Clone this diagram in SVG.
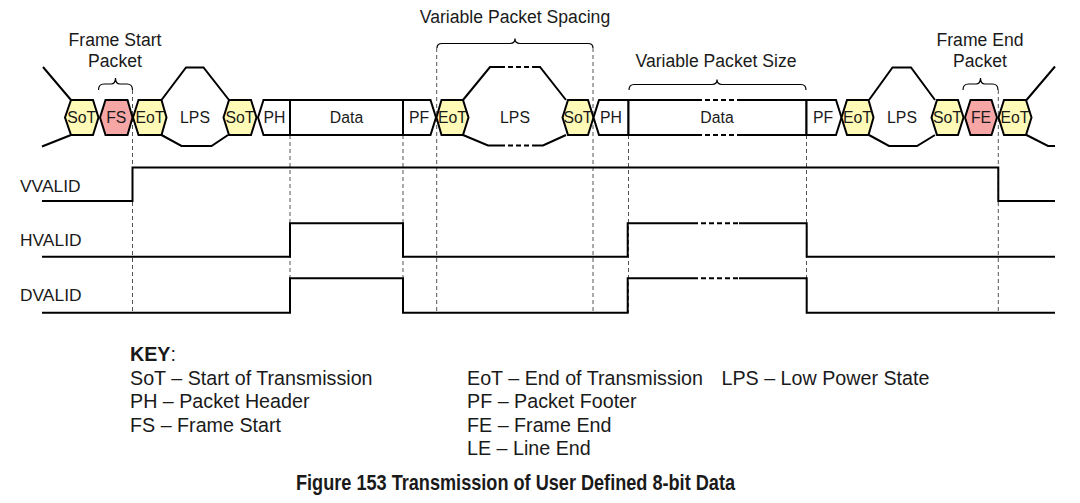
<svg xmlns="http://www.w3.org/2000/svg" width="1080" height="503" viewBox="0 0 1080 503">
<style>
text{font-family:"Liberation Sans",Arial,sans-serif;fill:#1a1a1a}
.pk{stroke:#000;stroke-width:2;stroke-linejoin:miter}
.y{fill:#FFFAB6}
.p{fill:#F7A6A6}
.w{fill:#fff}
.t{font-size:15.8px;text-anchor:middle}
.ln{fill:none;stroke:#000;stroke-width:2}
.dl{fill:none;stroke:#000;stroke-width:2;stroke-dasharray:5 3}
.br{fill:none;stroke:#000;stroke-width:1.2}
.gd{fill:none;stroke:#555;stroke-width:1;stroke-dasharray:4 3}
.lb{font-size:17.6px;text-anchor:middle}
.sg{font-size:17.4px}
.k{font-size:19.7px}
</style>

<g id="guides">
<path class="gd" d="M132.5,90V313M290,135V313M403,135V313M436.7,48V313M593,48V313M628.5,135V313M806.5,135V313M998.3,90V313"/>
</g>

<g id="lps-outlines">
<path class="ln" d="M43,67L71,100M42,146.5L71,135"/>
<path class="ln" d="M161.5,100L186,67.5H203.5L229,100M161.5,135L181.5,146H211.5L228,135"/>
<path class="ln" d="M463,100L490,67H500M533,67H540L566,100M463,135L488,145.5H500M535,145.5H543L566,135"/>
<path class="dl" d="M500,67H533M500,145.5H535"/>
<path class="ln" d="M869,100L892.5,67.5H911L935,100M869,135L889,146H917L935,135"/>
<path class="ln" d="M1026.5,100L1055,66.5M1026.5,135L1048,146H1055"/>
</g>

<g id="sot1"><polygon class="pk y" points="65,117.5 71,100 93,100 98.5,117.5 93,135 71,135"/><text class="t" x="81.7" y="123">SoT</text></g>
<g id="fs"><polygon class="pk p" points="100,117.5 105.5,100 127.5,100 132.5,117.5 127.5,135 105.5,135"/><text class="t" x="116.3" y="123">FS</text></g>
<g id="eot1"><polygon class="pk y" points="133,117.5 138.5,100 161.5,100 166.5,117.5 161.5,135 138.5,135"/><text class="t" x="150" y="123">EoT</text></g>
<g id="lps1"><text class="t" x="195" y="123">LPS</text></g>
<g id="sot2"><polygon class="pk y" points="223.5,117.5 229,100 251,100 256.5,117.5 251,135 229,135"/><text class="t" x="240" y="123">SoT</text></g>
<g id="ph1"><polygon class="pk w" points="258,117.5 263.5,100 290,100 290,135 263.5,135"/><text class="t" x="274.5" y="123">PH</text></g>
<g id="data1"><rect class="pk w" x="290" y="100" width="113" height="35"/><text class="t" x="346.5" y="123">Data</text></g>
<g id="pf1"><polygon class="pk w" points="403,100 430.5,100 436,117.5 430.5,135 403,135"/><text class="t" x="419" y="123">PF</text></g>
<g id="eot2"><polygon class="pk y" points="436.5,117.5 441.5,100 463,100 468.5,117.5 463,135 441.5,135"/><text class="t" x="452.5" y="123">EoT</text></g>
<g id="lps2"><text class="t" x="515" y="123">LPS</text></g>
<g id="sot3"><polygon class="pk y" points="562.5,117.5 568,100 588,100 593.5,117.5 588,135 568,135"/><text class="t" x="578" y="123">SoT</text></g>
<g id="ph2"><polygon class="pk w" points="593.5,117.5 599,100 628.5,100 628.5,135 599,135"/><text class="t" x="611" y="123">PH</text></g>
<g id="data2"><rect class="w" x="628.5" y="100" width="178" height="35"/>
<path class="ln" d="M697,100H628.5V135H697M737,100H806.5V135H737"/>
<path class="dl" d="M697,100H737M697,135H737"/>
<text class="t" x="717" y="123">Data</text></g>
<g id="pf2"><polygon class="pk w" points="806.5,100 836,100 841.5,117.5 836,135 806.5,135"/><text class="t" x="823" y="123">PF</text></g>
<g id="eot3"><polygon class="pk y" points="841.5,117.5 847,100 868.5,100 873.5,117.5 868.5,135 847,135"/><text class="t" x="857.5" y="123">EoT</text></g>
<g id="lps3"><text class="t" x="902" y="123">LPS</text></g>
<g id="sot4"><polygon class="pk y" points="931.5,117.5 937,100 958,100 963.5,117.5 958,135 937,135"/><text class="t" x="947.5" y="123">SoT</text></g>
<g id="fe"><polygon class="pk p" points="965,117.5 970.5,100 991.5,100 997,117.5 991.5,135 970.5,135"/><text class="t" x="981" y="123">FE</text></g>
<g id="eot4"><polygon class="pk y" points="998.5,117.5 1004,100 1026,100 1031.5,117.5 1026,135 1004,135"/><text class="t" x="1015" y="123">EoT</text></g>

<g id="braces">
<path class="br" d="M98.5,90Q98.5,84 104,84H111Q115.5,84 115.5,78Q115.5,84 120,84H127Q132.5,84 132.5,90"/>
<path class="br" d="M963,90Q963,84 968.5,84H976Q980.5,84 980.5,78Q980.5,84 985,84H992.5Q998,84 998,90"/>
<path class="br" d="M437,48Q437,43.5 442,43.5H510Q515,43.5 515,38.5Q515,43.5 520,43.5H588Q593,43.5 593,48"/>
<path class="br" d="M629,90Q629,84.5 634,84.5H712Q717,84.5 717,79.5Q717,84.5 722,84.5H801Q806,84.5 806,90"/>
</g>

<g id="labels">
<text class="lb" x="115" y="45.5">Frame Start</text>
<text class="lb" x="115" y="66.5">Packet</text>
<text class="lb" x="980" y="45.5">Frame End</text>
<text class="lb" x="980" y="66.5">Packet</text>
<text class="lb" x="515" y="22.7">Variable Packet Spacing</text>
<text class="lb" x="716" y="66.7">Variable Packet Size</text>
</g>

<g id="signals">
<path class="ln" d="M42,201H132.5V167.5H998.3V201H1055"/>
<path class="ln" d="M42,256.7H290V223.3H403V256.7H627.7V223.3H693M739,223.3H806.7V256.7H1055"/>
<path class="dl" d="M693,223.3H739"/>
<path class="ln" d="M42,312.7H290V278.3H403V312.7H627.7V278.3H693M739,278.3H806.7V312.7H1055"/>
<path class="dl" d="M693,278.3H739"/>
<text class="sg" x="20" y="191.5">VVALID</text>
<text class="sg" x="20" y="246">HVALID</text>
<text class="sg" x="20" y="301">DVALID</text>
</g>

<g id="key">
<text class="k" x="130" y="360.5"><tspan font-weight="bold">KEY</tspan>:</text>
<text class="k" x="130" y="384.5">SoT – Start of Transmission</text>
<text class="k" x="130" y="408">PH – Packet Header</text>
<text class="k" x="130" y="431.5">FS – Frame Start</text>
<text class="k" x="467" y="384.5">EoT – End of Transmission</text>
<text class="k" x="721.5" y="384.5">LPS – Low Power State</text>
<text class="k" x="467" y="408">PF – Packet Footer</text>
<text class="k" x="467" y="431.5">FE – Frame End</text>
<text class="k" x="467" y="455">LE – Line End</text>
</g>

<g id="title">
<text x="296" y="490" font-size="22.5" font-weight="bold" textLength="439" lengthAdjust="spacingAndGlyphs">Figure 153 Transmission of User Defined 8-bit Data</text>
</g>
</svg>
